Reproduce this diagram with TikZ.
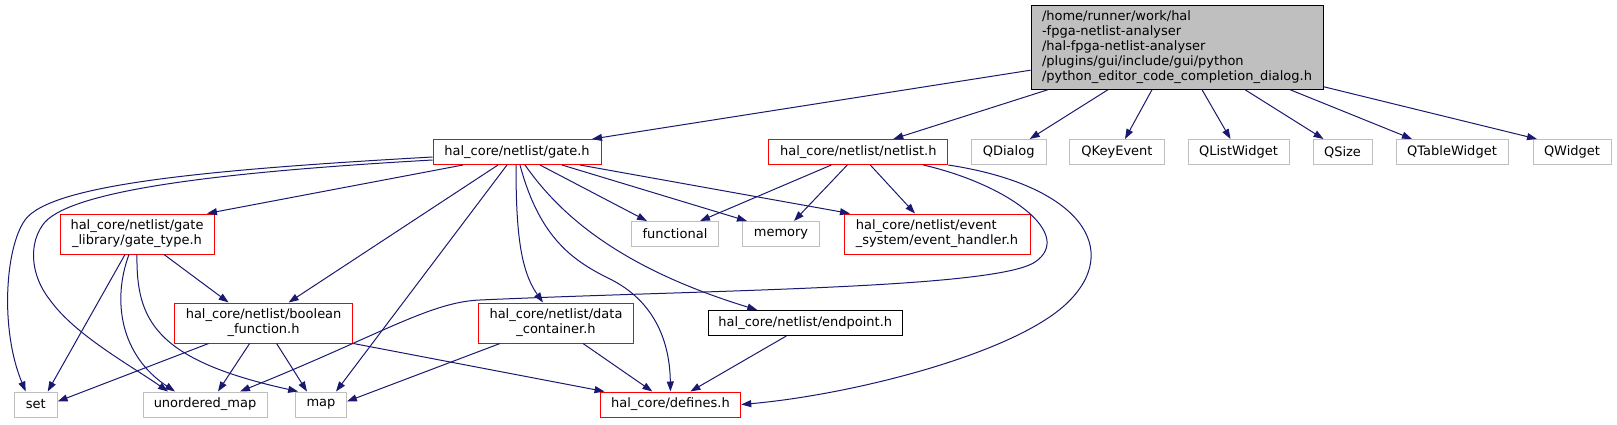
\documentclass[tikz,border=0pt]{standalone}
\usepackage{fontspec}
\setmainfont{DejaVu Sans}
\usetikzlibrary{arrows.meta}
\definecolor{edgeblue}{HTML}{191970}
\definecolor{qgrey}{HTML}{BFBFBF}

\begin{document}
\begin{tikzpicture}[x=1pt, y=-1pt,
  box/.style={draw, rectangle, line width=1pt, inner xsep=2pt, inner ysep=0pt, minimum height=25pt, font=\fontsize{13}{15}\selectfont},
  redbox/.style={box, draw=red},
  greybox/.style={box, draw=qgrey},
  twoline/.style={align=center, minimum height=40pt},
  dep/.style={draw=edgeblue, line width=1pt, -{Triangle[length=10pt, width=7pt]}}]
  \useasboundingbox (0,0) rectangle (1617,424);
  \node[box, fill=qgrey, align=left, minimum width=292pt, minimum height=84pt] (main) at (1177,47.2) {/home/runner/work/hal\\-fpga-netlist-analyser\\/hal-fpga-netlist-analyser\\/plugins/gui/include/gui/python\\/python\_editor\_code\_completion\_dialog.h};
  \node[redbox, minimum width=168pt] (gate) at (517,152) {hal\_core/netlist/gate.h};
  \node[redbox, minimum width=179pt] (netlist) at (858.3,152) {hal\_core/netlist/netlist.h};
  \node[greybox, minimum width=74.6pt] (qdialog) at (1008.7,152) {QDialog};
  \node[greybox, minimum width=94.3pt] (qkeyevent) at (1117,152) {QKeyEvent};
  \node[greybox, minimum width=101pt] (qlistwidget) at (1238.5,152) {QListWidget};
  \node[greybox, minimum width=59pt] (qsize) at (1342.5,152) {QSize};
  \node[greybox, minimum width=112pt] (qtablewidget) at (1452,152) {QTableWidget};
  \node[greybox, minimum width=78pt] (qwidget) at (1572,152) {QWidget};
  \node[redbox, twoline, minimum width=154pt] (gatetype) at (137,234) {hal\_core/netlist/gate\\\_library/gate\_type.h};
  \node[greybox, minimum width=86.5pt] (functional) at (675,234) {functional};
  \node[greybox, minimum width=77pt] (memory) at (781,234) {memory};
  \node[redbox, twoline, align=left, minimum width=186pt] (eventhandler) at (937,234) {hal\_core/netlist/event\\\_system/event\_handler.h};
  \node[redbox, twoline, minimum width=178.6pt] (boolfunc) at (263.6,323) {hal\_core/netlist/boolean\\\_function.h};
  \node[redbox, twoline, minimum width=155.5pt] (datacontainer) at (556,323) {hal\_core/netlist/data\\\_container.h};
  \node[box, minimum width=194.5pt] (endpoint) at (805.3,323) {hal\_core/netlist/endpoint.h};
  \node[greybox, minimum width=42.8pt] (set) at (35.7,404.5) {set};
  \node[greybox, minimum width=124pt] (umap) at (205,404.5) {unordered\_map};
  \node[greybox, minimum width=50.7pt] (stdmap) at (321,404.5) {map};
  \node[redbox, minimum width=140.7pt] (defines) at (670.4,404.5) {hal\_core/defines.h};
  \draw[dep] ([yshift=-23pt]main.west) -- ([xshift=75pt]gate.north);
  \draw[dep] ([xshift=-129pt]main.south) -- ([xshift=35pt]netlist.north);
  \draw[dep] ([xshift=-69pt]main.south) -- ([xshift=21pt]qdialog.north);
  \draw[dep] ([xshift=-25pt]main.south) -- ([xshift=8pt]qkeyevent.north);
  \draw[dep] ([xshift=25pt]main.south) -- ([xshift=-8pt]qlistwidget.north);
  \draw[dep] ([xshift=68pt]main.south) -- ([xshift=-19pt]qsize.north);
  \draw[dep] ([xshift=113pt]main.south) -- ([xshift=-40pt]qtablewidget.north);
  \draw[dep] ([yshift=3pt]main.south east) -- ([xshift=-35pt]qwidget.north);
  \draw[dep] ([xshift=-54pt]gate.south) -- ([xshift=70pt]gatetype.north);
  \draw[dep] ([xshift=-19pt]gate.south) -- ([xshift=25pt]boolfunc.north);
  \draw[dep] ([xshift=-10pt]gate.south) -- ([xshift=15pt]stdmap.north);
  \draw[dep] ([xshift=-1pt]gate.south) .. controls (516,230) and (520,270) .. ([xshift=-13pt]datacontainer.north);
  \draw[dep] ([xshift=3pt]gate.south) .. controls (540,240) and (575,262) .. (612,280) .. controls (660,305) and (670,350) .. (defines.north);
  \draw[dep] ([xshift=8pt]gate.south) .. controls (560,215) and (620,268) .. ([xshift=-48pt]endpoint.north);
  \draw[dep] ([xshift=23pt]gate.south) -- ([xshift=-28pt]functional.north);
  \draw[dep] ([xshift=45pt]gate.south) -- ([xshift=-34pt]memory.north);
  \draw[dep] ([xshift=63pt]gate.south) -- ([xshift=-87pt]eventhandler.north);
  \draw[dep] ([yshift=-5pt]gate.west) .. controls (200,170) and (50,185) .. (25,220) .. controls (5,248) and (0,330) .. ([xshift=-10pt]set.north);
  \draw[dep] ([yshift=-8pt]gate.west) .. controls (220,172) and (75,190) .. (45,222) .. controls (28,242) and (30,275) .. (50,300) .. controls (75,335) and (130,365) .. ([xshift=-37pt]umap.north);
  \draw[dep] ([xshift=-12pt]gatetype.south) -- ([xshift=12pt]set.north);
  \draw[dep] ([xshift=-8pt]gatetype.south) .. controls (112,300) and (120,355) .. ([xshift=-30pt]umap.north);
  \draw[dep] (gatetype.south) .. controls (136,320) and (155,360) .. ([xshift=3pt]stdmap.north west);
  \draw[dep] ([xshift=27pt]gatetype.south) -- ([xshift=-35pt]boolfunc.north);
  \draw[dep] ([xshift=-55pt]boolfunc.south) -- ([yshift=3pt]set.east);
  \draw[dep] ([xshift=-14pt]boolfunc.south) -- ([xshift=13pt]umap.north);
  \draw[dep] ([xshift=13pt]boolfunc.south) -- ([xshift=-14pt]stdmap.north);
  \draw[dep] (boolfunc.south east) -- ([xshift=5pt]defines.north west);
  \draw[dep] ([xshift=-56pt]datacontainer.south) -- ([yshift=3pt]stdmap.east);
  \draw[dep] ([xshift=27pt]datacontainer.south) -- ([xshift=-18pt]defines.north);
  \draw[dep] ([xshift=-19pt]endpoint.south) -- ([xshift=20pt]defines.north);
  \draw[dep] ([xshift=-27pt]netlist.south) -- ([xshift=25pt]functional.north);
  \draw[dep] ([xshift=-11pt]netlist.south) -- ([xshift=13pt]memory.north);
  \draw[dep] ([xshift=12pt]netlist.south) -- ([xshift=-22pt]eventhandler.north);
  \draw[dep] ([xshift=65pt]netlist.south) .. controls (1010,185) and (1075,235) .. (1035,262) .. controls (995,289) and (700,290) .. (480,300) .. controls (430,302) and (380,335) .. ([xshift=35pt]umap.north);
  \draw[dep] (netlist.south east) .. controls (1080,185) and (1125,250) .. (1065,305) .. controls (1010,355) and (850,395) .. (defines.east);
\end{tikzpicture}
\end{document}
